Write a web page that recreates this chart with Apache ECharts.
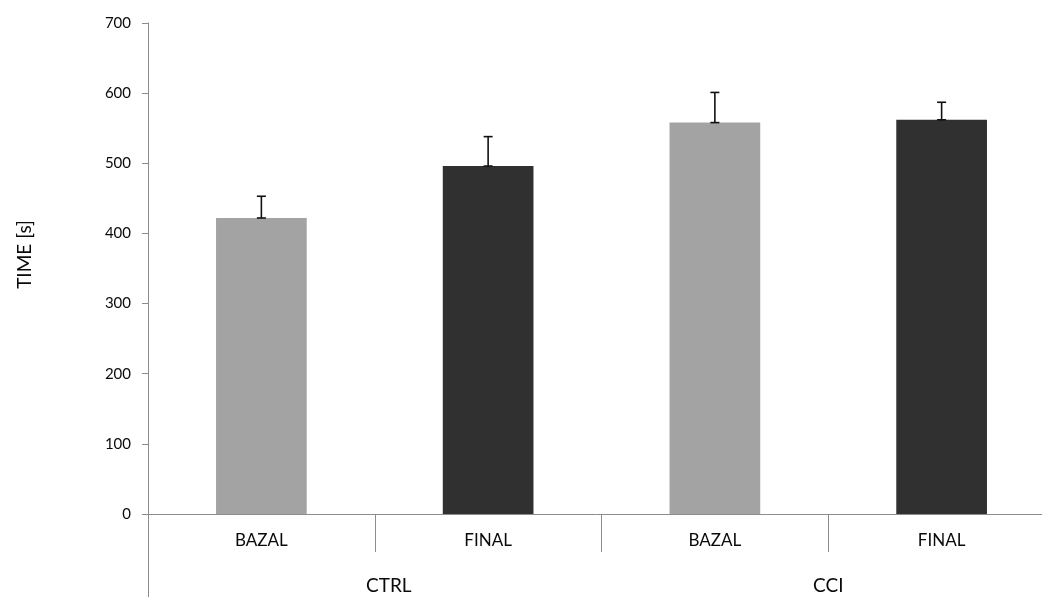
<!DOCTYPE html>
<html>
<head>
<meta charset="utf-8">
<script src="https://cdn.jsdelivr.net/npm/echarts@6/dist/echarts.min.js"></script>
<style>
  html, body { margin: 0; padding: 0; background: #fff; }
  #chart { width: 1042px; height: 597px; }
</style>
</head>
<body>
<div id="chart"></div>
<script>
// Phase labels along the bottom, one per bar
const phases = ['BAZAL', 'FINAL', 'BAZAL', 'FINAL'];
// Group names, each spanning two phases
const groups = ['CTRL', 'CCI'];
// Mean time per bar, seconds
const means = [422, 496, 558, 562];
// Upper error (SD) per bar, seconds
const errors = [31, 42, 43, 25];
// Bar fill per phase
const barColors = ['#a3a3a3', '#303030', '#a3a3a3', '#303030'];

const FONT = 'Lato, "Open Sans", sans-serif';
const AXIS_GREY = '#8c8c8c';
const TEXT = '#0a0a0a';

const chart = echarts.init(document.getElementById('chart'), null, { renderer: 'canvas' });

const barData = means.map((v, i) => ({ value: v, itemStyle: { color: barColors[i] } }));
const errData = means.map((v, i) => [i, v, v + errors[i]]);

chart.setOption({
  animation: false,
  backgroundColor: '#ffffff',
  // the plot runs a little past the right edge of the canvas
  grid: { left: 148, width: 907, top: 23, bottom: 83, containLabel: false, outerBoundsMode: 'none' },
  xAxis: [
    {
      type: 'category',
      data: phases,
      boundaryGap: true,
      axisLine: { show: true, lineStyle: { color: AXIS_GREY, width: 1 } },
      axisTick: { show: true, interval: 0, length: 38, alignWithLabel: false, lineStyle: { color: AXIS_GREY, width: 1 } },
      axisLabel: { interval: 0, margin: 18, fontFamily: FONT, fontSize: 17, color: TEXT }
    },
    {
      type: 'category',
      data: groups,
      position: 'bottom',
      boundaryGap: true,
      axisLine: { show: false },
      axisTick: { show: false },
      axisLabel: {
        interval: 0,
        margin: 62,
        fontFamily: FONT,
        fontSize: 19,
        color: TEXT,
        formatter: (v, i) => (i === 0 ? '{first|' + v + '}' : v),
        rich: { first: { fontFamily: FONT, fontSize: 19, color: TEXT, padding: [0, 0, 0, 28] } }
      }
    }
  ],
  yAxis: {
    type: 'value',
    min: 0,
    max: 700,
    interval: 100,
    name: 'TIME [s]',
    nameLocation: 'middle',
    nameGap: 114,
    nameRotate: 90,
    nameTextStyle: { fontFamily: FONT, fontSize: 19, color: TEXT, padding: [0, 0, 0, 28] },
    axisLine: { show: true, lineStyle: { color: AXIS_GREY, width: 1 } },
    axisTick: { show: true, length: 6, lineStyle: { color: AXIS_GREY, width: 1 } },
    splitLine: { show: false },
    axisLabel: { margin: 17, fontFamily: FONT, fontSize: 15, color: TEXT }
  },
  series: [
    {
      type: 'bar',
      xAxisIndex: 0,
      barWidth: '40%',
      data: barData,
      z: 2
    },
    {
      type: 'custom',
      xAxisIndex: 0,
      data: errData,
      z: 3,
      renderItem: function (params, api) {
        const low = api.coord([api.value(0), api.value(1)]);
        const high = api.coord([api.value(0), api.value(2)]);
        const half = 4.5;
        const style = { stroke: '#111111', lineWidth: 1.6 };
        return {
          type: 'group',
          children: [
            { type: 'line', shape: { x1: high[0], y1: high[1], x2: low[0], y2: low[1] }, style: style },
            { type: 'line', shape: { x1: high[0] - half, y1: high[1], x2: high[0] + half, y2: high[1] }, style: style },
            { type: 'line', shape: { x1: low[0] - half, y1: low[1], x2: low[0] + half, y2: low[1] }, style: style }
          ]
        };
      }
    }
  ]
});

// The value axis line continues down past the category labels to the chart's lower edge
const origin = chart.convertToPixel({ xAxisIndex: 0, yAxisIndex: 0 }, [0, 0]);
const leftX = chart.getModel().getComponent('grid').coordinateSystem.getRect().x;
chart.setOption({
  graphic: [{
    type: 'line',
    shape: { x1: Math.round(leftX) + 0.5, y1: origin[1], x2: Math.round(leftX) + 0.5, y2: 597 },
    style: { stroke: AXIS_GREY, lineWidth: 1 },
    silent: true
  }]
});
</script>
</body>
</html>
